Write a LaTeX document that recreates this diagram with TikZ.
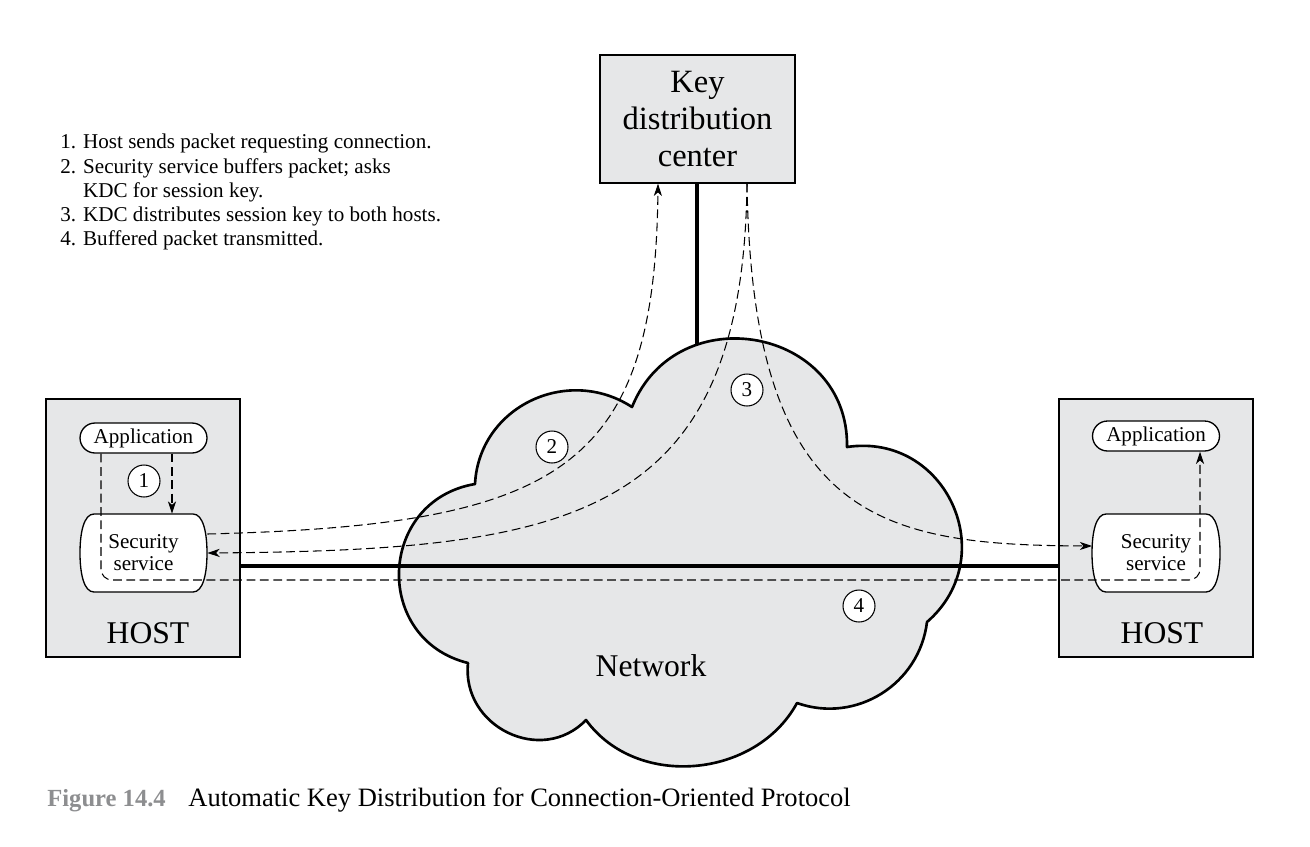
\documentclass[tikz,border=0pt]{standalone}
\usepackage{fontspec}
\setmainfont{Liberation Serif}
\usetikzlibrary{arrows.meta,shapes.misc,calc}
\definecolor{boxgray}{HTML}{E6E7E8}
\definecolor{capgray}{HTML}{8D8E90}
\newcommand\secshape[4]{%
  \path[draw=black,fill=white,line width=0.75pt]
    (#1+14,#2) -- (#3-14,#2) .. controls (#3-4,#2) and (#3,#2+18) .. (#3,{(#2+#4)/2})
    .. controls (#3,#4-18) and (#3-4,#4) .. (#3-14,#4) -- (#1+14,#4)
    .. controls (#1+4,#4) and (#1,#4-18) .. (#1,{(#2+#4)/2})
    .. controls (#1,#2+18) and (#1+4,#2) .. cycle;}
\begin{document}
\begin{tikzpicture}[x=0.02cm,y=-0.02cm,
  hostbox/.style={draw,line width=0.75pt,fill=boxgray,minimum width=3.88cm,minimum height=5.16cm,inner sep=0pt},
  kdcbox/.style={draw,line width=0.75pt,fill=boxgray,minimum width=3.9cm,minimum height=2.56cm,inner sep=0pt,align=center,font=\fontsize{18.5}{21}\selectfont},
  appbox/.style={rounded rectangle,draw,line width=0.75pt,fill=white,minimum width=2.54cm,minimum height=0.6cm,inner sep=0pt,font=\fontsize{12}{13.6}\selectfont},
  secnode/.style={minimum width=2.54cm,minimum height=1.56cm,inner sep=0pt,align=center,font=\fontsize{12}{12.6}\selectfont},
  bigtext/.style={font=\fontsize{18}{21}\selectfont,inner sep=0pt},
  numc/.style={circle,draw,line width=0.6pt,fill=white,minimum size=0.64cm,inner sep=0pt,font=\fontsize{12}{13}\selectfont},
  dashline/.style={dash pattern=on 5pt off 2.6pt,line width=0.6pt},
  arr/.style={-{Stealth[length=7pt,width=4.6pt,inset=2pt]}},
  thickline/.style={line width=2.3pt},
  cloudline/.style={line width=1.5pt,fill=boxgray,line join=round}
]
\useasboundingbox (0,0) rectangle (1310,846);

% boxes
\node[hostbox] (lhost) at (143,528) {};
\node[hostbox] (rhost) at (1156,528) {};
\node[kdcbox] (kdc) at (697.5,119) {Key\\distribution\\center};

% vertical thick line (KDC to network)
\coordinate (cloudtop) at (697,400);
\draw[thickline] (kdc.south -| cloudtop) -- (cloudtop);

% cloud
\draw[cloudline] (475,484)
  to[out=87,in=147,looseness=1.13] (632,407)
  to[out=68,in=89,looseness=1.4] (847,447)
  to[out=8.5,in=41,looseness=1.33] (927,622)
  to[out=-97,in=-19.5,looseness=1.05] (797,703)
  to[out=-118.5,in=-54,looseness=1.04] (586,720)
  to[out=-134,in=-96,looseness=1.25] (468,663)
  to[out=166,in=189.7,looseness=1.41] (475,484) -- cycle;
\node[bigtext,anchor=base] (net) at (651,676) {Network};

% horizontal thick line
\draw[thickline] ($(lhost.east)+(0,38)$) -- ($(rhost.west)+(0,38)$);

% host internals
\node[appbox] (lapp) at (143.5,438) {Application};
\node[appbox] (rapp) at (1156,436) {Application};
\secshape{80}{514}{207}{592}
\node[secnode] (lss) at (143.5,553) {Security\\service};
\secshape{1092}{514}{1220}{592}
\node[secnode] (rss) at (1156,553) {Security\\service};
\node[bigtext,anchor=base] (lhl) at (148,643) {HOST};
\node[bigtext,anchor=base] (rhl) at (1162,643) {HOST};

% connector coordinates
\coordinate (c1x) at (172,0);
\coordinate (c4l) at (101,580);
\coordinate (c4r) at (1200,580);
\coordinate (k2x) at (658,0);
\coordinate (k3x) at (747,0);

% 1: application -> security service
\draw[dashline,arr] (lapp.south -| c1x) -- (lss.north -| c1x);
% 2: security service -> KDC
\draw[dashline,arr] ($(lss.east)+(0,-19)$) .. controls (560,525) and (655,470) .. (kdc.south -| k2x);
% 3: KDC -> both security services
\draw[dashline,arr] (kdc.south -| k3x) .. controls (743,520) and (570,550) .. (lss.east);
\draw[dashline,arr] (kdc.south -| k3x) .. controls (752,520) and (880,545) .. ($(rss.west)+(0,-7)$);
% 4: buffered packet transmitted
\draw[dashline,arr,rounded corners=0.22cm] (lapp.south -| c4l) |- (c4r) -- (rapp.south -| c4r);

% step numbers
\node[numc] (n1) at (144,481) {1};
\node[numc] (n2) at (552,447) {2};
\node[numc] (n3) at (747,390) {3};
\node[numc] (n4) at (859,606) {4};

% legend
\node[anchor=north west,align=left,inner sep=0pt,font=\fontsize{12}{13.75}\selectfont] (legend) at (60,134)
 {1. Host sends packet requesting connection.\\
  2. Security service buffers packet; asks\\
  \phantom{2. }KDC for session key.\\
  3. KDC distributes session key to both hosts.\\
  4. Buffered packet transmitted.};

% caption
\node[anchor=base west,inner sep=0pt,font=\fontsize{14}{16}\selectfont\bfseries,text=capgray] (figno) at (47,806) {Figure 14.4};
\node[anchor=base west,inner sep=0pt,font=\fontsize{15.1}{16}\selectfont] (figcap) at (188,806) {Automatic Key Distribution for Connection-Oriented Protocol};
\end{tikzpicture}
\end{document}
